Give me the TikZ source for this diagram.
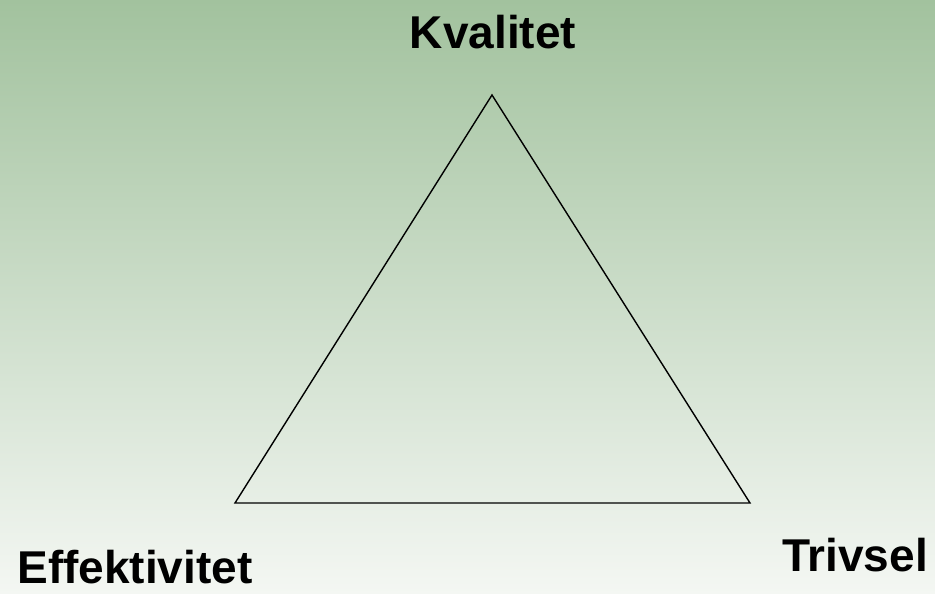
\documentclass[tikz,border=0pt]{standalone}
\usepackage{fontspec}
\setmainfont{Liberation Sans}
\usetikzlibrary{positioning}
\definecolor{bgtop}{RGB}{162,194,158}
\definecolor{bgbottom}{RGB}{244,247,243}

\begin{document}
\begin{tikzpicture}[x=1pt, y=-1pt, thick,
    corner/.style={font=\fontsize{46}{50}\selectfont\bfseries, inner sep=0pt}]
                \shade[top color=bgtop, bottom color=bgbottom] (0,0) rectangle (935,594);
                \useasboundingbox (0,0) rectangle (935,594);
                
                \coordinate (top) at (492,95);
                \coordinate (left) at (235,503);
                \coordinate (right) at (750,503);
                \draw[black, line width=1.4pt] (top) -- (right) -- (left) -- cycle;
                
                \node[corner] (kval) at (493,32) {Kvalitet};
                \node[corner] (eff) at (135,567) {Effektivitet};
                \node[corner] (triv) at (855,555) {Trivsel};
            \end{tikzpicture}
\end{document}
